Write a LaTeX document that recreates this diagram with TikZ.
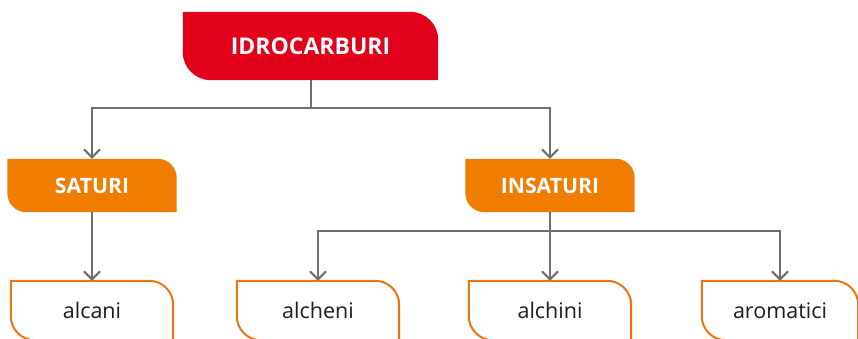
\documentclass[tikz,border=0pt]{standalone}
\usepackage{fontspec}
\setmainfont{Open Sans}
\usetikzlibrary{arrows.meta,backgrounds}

\definecolor{idrored}{HTML}{E2001A}
\definecolor{taborange}{HTML}{EF7D00}
\definecolor{leaforange}{HTML}{EE7410}
\definecolor{linkgray}{HTML}{6E6E6E}
\definecolor{leaftext}{HTML}{1E1E1E}

\begin{document}
\begin{tikzpicture}[x=1pt,y=1pt,
    head/.style={minimum width=255pt,minimum height=68pt,inner sep=0pt,text=white,font=\fontsize{23}{23}\selectfont\bfseries},
    group/.style={minimum width=169pt,minimum height=53pt,inner sep=0pt,text=white,font=\fontsize{21.2}{21.2}\selectfont\bfseries},
    leaf/.style={minimum width=162pt,minimum height=59pt,inner sep=0pt,text=leaftext,font=\fontsize{21.5}{21.5}\selectfont},
    link/.style={draw=linkgray,line width=2pt,-{Straight Barb[length=8pt,width=16pt]}}]
\useasboundingbox (0,0) rectangle (858,-339);
\clip (0,0) rectangle (858,-339);
% boxes
\node[head] (top) at (310.5,-46) {IDROCARBURI};
\node[group] (sat) at (92,-185.5) {SATURI};
\node[group] (ins) at (550,-185.5) {INSATURI};
\node[leaf] (alcani) at (92,-310.5) {alcani};
\node[leaf] (alcheni) at (318,-310.5) {alcheni};
\node[leaf] (alchini) at (550,-310.5) {alchini};
\node[leaf,minimum width=156pt] (aromatici) at (780,-310.5) {aromatici};
% box outlines, round at top right and bottom left
\begin{scope}[on background layer]
\foreach \n/\c/\r in {top/idrored/28, sat/taborange/19, ins/taborange/19} {
    \fill[\c] (\n.north west) -- ([xshift=-\r pt]\n.north east) arc[start angle=90,end angle=0,radius=\r pt] -- (\n.south east) -- ([xshift=\r pt]\n.south west) arc[start angle=270,end angle=180,radius=\r pt] -- cycle;
}
\foreach \n in {alcani,alcheni,alchini,aromatici} {
    \draw[leaforange,line width=2pt,fill=white] (\n.north west) -- ([xshift=-24pt]\n.north east) arc[start angle=90,end angle=0,radius=24pt] -- (\n.south east) -- ([xshift=24pt]\n.south west) arc[start angle=270,end angle=180,radius=24pt] -- cycle;
}
\end{scope}
% connectors
\draw[link] (top.south) -- ++(0,-28) -| (sat.north);
\draw[link] (top.south) -- ++(0,-28) -| (ins.north);
\draw[link] (sat.south) -- (alcani.north);
\draw[link] (ins.south) -- (alchini.north);
\draw[link] (ins.south) -- ++(0,-19) -| (alcheni.north);
\draw[link] (ins.south) -- ++(0,-19) -| (aromatici.north);
\end{tikzpicture}
\end{document}
